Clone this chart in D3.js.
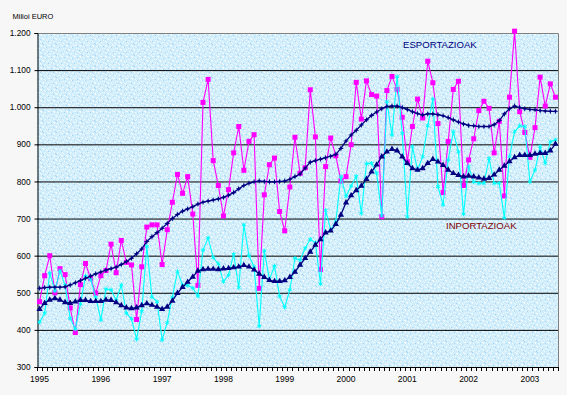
<!DOCTYPE html>
<html><head><meta charset="utf-8">
<script src="https://cdn.jsdelivr.net/npm/d3@7"></script>
<style>
body{margin:0;background:#F7F7F7}
svg{display:block}
text{font-family:"Liberation Sans",Arial,sans-serif}
</style>
</head><body>
<svg id="chart" width="567" height="395"></svg>
<script>
// ---- data ----
const months = d3.timeMonths(new Date(1995, 0, 1), new Date(2003, 6, 1)); // Jan 1995 .. Jun 2003
const yearLabels = ["1995","1996","1997","1998","1999","2000","2001","2002","2003"];
const yTicks = [300,400,500,600,700,800,900,1000,1100,1200];
const seriesNames = ["ESPORTAZIOAK","INPORTAZIOAK"];
const unitLabel = "Milioi EURO";

const exportsRaw = [476,546,600,500,565,549,459,393,522,579,538,499,546,560,631,554,641,582,575,428,
  570,677,683,683,576,670,744,819,768,813,712,520,1013,1075,856,789,707,778,877,948,
  830,908,926,512,764,845,863,719,667,785,919,822,837,1047,920,563,840,917,869,801,
  813,899,1067,968,1071,1034,1030,705,1045,1083,1048,973,853,948,1022,971,1124,1066,956,770,
  908,1048,1070,789,858,915,991,1016,997,877,962,761,1027,1205,988,932,865,945,1081,1003,
  1063,1027];
const importsRaw = [421,445,553,505,559,520,431,402,470,545,536,488,427,510,508,480,521,445,430,375,
  450,625,489,476,373,420,489,557,521,520,513,491,615,648,595,578,530,548,604,514,
  683,600,570,410,613,536,572,491,461,508,593,588,620,644,635,524,722,669,692,813,
  760,788,814,714,848,849,822,708,1015,925,1082,930,705,894,831,867,950,1022,786,737,
  858,934,880,712,840,799,795,795,862,795,795,702,867,934,950,948,799,831,894,849,
  907,912];
const exportsTrend = [512,514,515,515,515,516,521,527,533,539,545,551,556,561,565,569,576,584,593,605,
  618,638,651,662,674,687,700,711,720,726,732,739,744,747,750,753,757,763,770,780,
  789,795,799,801,800,799,799,800,801,806,813,820,836,852,856,860,864,868,873,889,
  909,925,938,952,966,978,987,996,1002,1003,1003,999,994,988,983,979,982,982,980,977,
  972,966,960,955,951,950,948,948,948,953,964,982,996,1003,999,996,994,993,991,990,
  989,989];
const importsTrend = [456,472,481,485,481,474,472,476,480,480,477,477,477,481,480,474,466,460,458,460,
  466,471,467,462,456,462,478,499,515,529,543,559,563,564,564,563,565,566,568,570,
  574,570,562,551,542,534,531,531,533,542,556,575,593,610,629,644,662,667,685,710,
  743,762,776,788,806,826,845,867,880,887,883,867,849,835,831,835,849,860,853,844,
  831,822,817,813,815,813,810,807,809,818,831,842,854,865,871,871,871,874,876,876,
  883,901];

// ---- layout ----
const svg = d3.select("#chart");
const L = 37, R = 558, T = 33, B = 367;
const thousands = d3.formatLocale({decimal:",", thousands:".", grouping:[3], currency:["",""]}).format(",");

const x = d3.scaleBand().domain(months.map((d,i)=>i)).range([L, R]).paddingInner(0).paddingOuter(0);
const cx = i => x(i) + x.bandwidth()/2;
const y = d3.scaleLinear().domain([300, 1200]).range([B, T]);

// plot background with light speckle texture
const defs = svg.append("defs");
const pat = defs.append("pattern").attr("id","tex").attr("patternUnits","userSpaceOnUse")
  .attr("width",13).attr("height",11);
pat.append("rect").attr("width",13).attr("height",11).attr("fill","#D0EDFC");
const whiteDots = [[1,1],[2,1],[2,2],[5,2],[9,1],[10,1],[6,3],[11,4],[0,4],[3,5],[4,5],[4,6],[7,6],[8,7],[12,7],[1,8],[2,9],[6,9],[10,9],[11,10],[8,0],[5,10],[9,5]];
whiteDots.forEach(p=>pat.append("rect").attr("x",p[0]).attr("y",p[1]).attr("width",1).attr("height",1).attr("fill","#F5FAFC"));
[[4,0],[7,3],[1,6],[12,2],[9,8],[3,10]].forEach(p=>
  pat.append("rect").attr("x",p[0]).attr("y",p[1]).attr("width",1).attr("height",1).attr("fill","#A7D2F3"));

svg.append("rect").attr("x",L).attr("y",T).attr("width",R-L).attr("height",B-T).attr("fill","url(#tex)");

// gridlines
svg.append("g").selectAll("line").data(yTicks.filter(v=>v>300 && v<1200)).join("line")
  .attr("x1",L).attr("x2",R).attr("y1",d=>y(d)+0.5).attr("y2",d=>y(d)+0.5)
  .attr("stroke","#000").attr("stroke-width",1);

// plot border (top/right gray)
svg.append("path").attr("d",`M${L},${T+0.5}H${R+0.5}V${B}`).attr("fill","none").attr("stroke","#808080");

// y axis
const yAxis = d3.axisLeft(y).tickValues(yTicks).tickSize(3).tickPadding(4).tickFormat(thousands);
const gy = svg.append("g").attr("transform",`translate(${L+0.5},0)`).call(yAxis);
gy.select(".domain").attr("stroke","#000");
gy.selectAll(".tick line").attr("stroke","#000");
gy.selectAll("text").attr("font-size","8.3px").attr("fill","#000");

// x axis: ticks at every category boundary
const gx = svg.append("g");
gx.append("line").attr("x1",L).attr("x2",R+0.5).attr("y1",B+0.5).attr("y2",B+0.5).attr("stroke","#000");
gx.selectAll("line.t").data(d3.range(months.length+1)).join("line").attr("class","t")
  .attr("x1",i=>Math.round(L + i*x.step())+0.5).attr("x2",i=>Math.round(L + i*x.step())+0.5)
  .attr("y1",B).attr("y2",B+4).attr("stroke","#000");
const janIdx = months.map((d,i)=>i).filter(i=>months[i].getMonth()===0);
gx.selectAll("text").data(janIdx).join("text")
  .attr("x",i=>cx(i)).attr("y",382).attr("text-anchor","middle")
  .attr("font-size","8.5px").attr("fill","#000")
  .text((i,k)=>yearLabels[k]);

// lines
const line = d3.line().x((d,i)=>cx(i)).y(d=>y(d));

function drawSeries(data, color, width){
  svg.append("path").datum(data).attr("d",line).attr("fill","none")
    .attr("stroke",color).attr("stroke-width",width).attr("stroke-linejoin","round");
}
drawSeries(exportsRaw, "#FF00FF", 1.1);
svg.append("g").selectAll("rect").data(exportsRaw).join("rect")
  .attr("x",(d,i)=>cx(i)-2.5).attr("y",d=>y(d)-2.5).attr("width",5).attr("height",5).attr("fill","#FF00FF");

drawSeries(importsRaw, "#00FFFF", 1.1);
svg.append("g").selectAll("path").data(importsRaw).join("path")
  .attr("transform",(d,i)=>`translate(${cx(i)},${y(d)})`)
  .attr("d",d3.symbol(d3.symbolAsterisk,14)).attr("fill","none").attr("stroke","#00FFFF").attr("stroke-width",1);

drawSeries(exportsTrend, "#000080", 1.3);
const star4 = "M0,-3L0.8,-0.8L3,0L0.8,0.8L0,3L-0.8,0.8L-3,0L-0.8,-0.8Z";
svg.append("g").selectAll("path").data(exportsTrend).join("path")
  .attr("transform",(d,i)=>`translate(${cx(i)},${y(d)})`).attr("d",star4).attr("fill","#000080");

drawSeries(importsTrend, "#000080", 1.3);
svg.append("g").selectAll("path").data(importsTrend).join("path")
  .attr("transform",(d,i)=>`translate(${cx(i)},${y(d)})`)
  .attr("d",d3.symbol(d3.symbolTriangle,17)).attr("fill","#000080");

// labels
svg.append("text").attr("x",12.5).attr("y",18.8).attr("font-size","7.5px").attr("fill","#000").text(unitLabel);
svg.append("text").attr("x",403).attr("y",47.8).attr("font-size","9.6px").attr("fill","#000080").text(seriesNames[0]);
svg.append("text").attr("x",446).attr("y",228.8).attr("font-size","9.6px").attr("fill","#800000").text(seriesNames[1]);
</script>
</body></html>
